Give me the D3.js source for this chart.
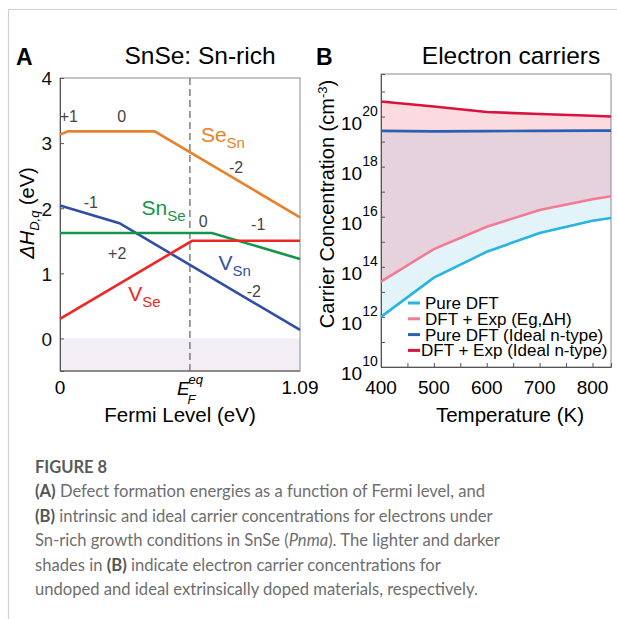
<!DOCTYPE html>
<html>
<head>
<meta charset="utf-8">
<script src="https://cdn.jsdelivr.net/npm/d3@7"></script>
<style>
  body { margin: 0; background: #fff; }
  svg text { font-family: "Liberation Sans", Arial, sans-serif; }
  svg text.cap { font-family: "Lato", "Open Sans", sans-serif; }
</style>
</head>
<body>
<div id="chart"></div>
<script>
// ---- panel A data: defect formation energy (eV) vs Fermi level (eV)
const fermiMax = 1.09;
const fermiEq = 0.59;
const seSn = [[0, 3.13], [0.036, 3.18], [0.43, 3.18], [1.09, 1.86]];
const vSn = [[0, 2.04], [0.27, 1.77], [1.09, 0.13]];
const snSe = [[0, 1.62], [0.69, 1.62], [1.09, 1.22]];
const vSe = [[0, 0.30], [0.60, 1.50], [1.09, 1.50]];
const energyTicks = [0, 1, 2, 3, 4];

// ---- panel B data: carrier concentration (log10 cm^-3) vs temperature (K)
const temps = [400, 500, 600, 700, 800, 835];
const pureDft = [12.0, 13.57, 14.6, 15.35, 15.84, 15.95];
const dftExp = [13.41, 14.71, 15.6, 16.27, 16.7, 16.82];
const pureIdeal = [19.43, 19.41, 19.42, 19.43, 19.44, 19.44];
const expIdeal = [20.6, 20.4, 20.18, 20.1, 20.03, 20.0];
const tempTicks = [400, 500, 600, 700, 800];
const legendLabels = ["Pure DFT", "DFT + Exp (Eg,\u0394H)", "Pure DFT (Ideal n-type)", "DFT + Exp (Ideal n-type)"];

const caption = [
  [["b", "(A)"], ["n", " Defect formation energies as a function of Fermi level, and"]],
  [["b", "(B)"], ["n", " intrinsic and ideal carrier concentrations for electrons under"]],
  [["n", "Sn-rich growth conditions in SnSe ("], ["i", "Pnma"], ["n", "). The lighter and darker"]],
  [["n", "shades in "], ["b", "(B)"], ["n", " indicate electron carrier concentrations for"]],
  [["n", "undoped and ideal extrinsically doped materials, respectively."]]
];

const width = 617, height = 619;
const svg = d3.select("#chart").append("svg")
  .attr("width", width).attr("height", height);

// card border
svg.append("line").attr("x1", 8.5).attr("x2", width).attr("y1", 9.5).attr("y2", 9.5)
  .attr("stroke", "#d0d0d0").attr("stroke-width", 1.2);
svg.append("line").attr("x1", 8.5).attr("x2", 8.5).attr("y1", 9.5).attr("y2", height)
  .attr("stroke", "#d0d0d0").attr("stroke-width", 1.2);

// =================== panel A ===================
const xA = d3.scaleLinear().domain([0, fermiMax]).range([60, 300]);
const yA = d3.scaleLinear().domain([-0.5, 4]).range([371, 78]);

svg.append("rect")
  .attr("x", xA(0)).attr("y", yA(0))
  .attr("width", xA(fermiMax) - xA(0)).attr("height", yA(-0.5) - yA(0))
  .attr("fill", "#f3eef5");

// box
svg.append("rect")
  .attr("x", xA(0)).attr("y", yA(4))
  .attr("width", xA(fermiMax) - xA(0)).attr("height", yA(-0.5) - yA(4))
  .attr("fill", "none").attr("stroke", "#8a8a8a").attr("stroke-width", 1);

svg.append("g")
  .attr("transform", "translate(" + xA(0) + ",0)")
  .call(d3.axisLeft(yA).tickValues(energyTicks).tickFormat(d3.format("d"))
    .tickSize(-4).tickPadding(8))
  .call((g) => g.select(".domain").attr("stroke", "#555"))
  .call((g) => g.selectAll("line").attr("stroke", "#555"))
  .call((g) => g.selectAll("text").attr("font-size", 19).attr("fill", "#111")
    .attr("dy", "0.36em")
    .attr("font-family", "Liberation Sans, Arial, sans-serif"));

svg.append("line")
  .attr("x1", xA(0)).attr("x2", xA(fermiMax))
  .attr("y1", yA(-0.5)).attr("y2", yA(-0.5))
  .attr("stroke", "#555");

// dashed Fermi level
svg.append("line")
  .attr("x1", xA(fermiEq)).attr("x2", xA(fermiEq))
  .attr("y1", yA(4)).attr("y2", yA(-0.5))
  .attr("stroke", "#777").attr("stroke-width", 1.4)
  .attr("stroke-dasharray", "7,4");

const lineA = d3.line().x((d) => xA(d[0])).y((d) => yA(d[1]));
[[seSn, "#e8822a"], [vSn, "#2f4fa6"], [snSe, "#14964a"], [vSe, "#ee2624"]]
  .forEach(([d, c]) => {
    svg.append("path").datum(d).attr("d", lineA)
      .attr("fill", "none").attr("stroke", c).attr("stroke-width", 2.6);
  });

// charge labels
const chargeLabels = [
  ["+1", 0.04, 3.32], ["0", 0.28, 3.32], ["-2", 0.80, 2.54],
  ["-1", 0.14, 2.01], ["0", 0.65, 1.71], ["-1", 0.90, 1.66],
  ["+2", 0.26, 1.22], ["-2", 0.88, 0.64]
];
svg.selectAll(".charge").data(chargeLabels).enter().append("text")
  .attr("class", "charge")
  .attr("x", (d) => xA(d[1])).attr("y", (d) => yA(d[2]))
  .attr("text-anchor", "middle").attr("font-size", 16).attr("fill", "#444")
  .text((d) => d[0]);

// species labels
const speciesLabel = (main, sub, fx, ey, color) => {
  const t = svg.append("text").attr("x", xA(fx)).attr("y", yA(ey))
    .attr("font-size", 21).attr("fill", color);
  t.append("tspan").text(main);
  t.append("tspan").attr("font-size", 15).attr("dy", 6).text(sub);
};
speciesLabel("Se", "Sn", 0.64, 3.02, "#e8822a");
speciesLabel("Sn", "Se", 0.37, 1.89, "#14964a");
speciesLabel("V", "Sn", 0.72, 1.05, "#2f4fa6");
speciesLabel("V", "Se", 0.31, 0.58, "#ee2624");

// x tick labels
svg.append("text").attr("x", xA(0)).attr("y", 394).attr("text-anchor", "middle")
  .attr("font-size", 19).text("0");
svg.append("text").attr("x", xA(fermiMax)).attr("y", 394).attr("text-anchor", "middle")
  .attr("font-size", 19).text("1.09");
const ef = svg.append("text").attr("x", xA(fermiEq) - 13).attr("y", 395)
  .attr("font-size", 19).attr("font-style", "italic");
ef.append("tspan").text("E");
ef.append("tspan").attr("font-size", 13).attr("dx", -2).attr("dy", 9).text("F");
ef.append("tspan").attr("font-size", 13).attr("dx", -7).attr("dy", -20).text("eq");

// axis titles
svg.append("text").attr("x", 180).attr("y", 422).attr("text-anchor", "middle")
  .attr("font-size", 20.5).text("Fermi Level (eV)");
const yTitleA = svg.append("text")
  .attr("transform", "translate(34," + 213 + ") rotate(-90)")
  .attr("text-anchor", "middle").attr("font-size", 20);
yTitleA.append("tspan").attr("font-style", "italic").text("\u0394H");
yTitleA.append("tspan").attr("font-style", "italic").attr("font-size", 13).attr("dy", 5).text("D,q");
yTitleA.append("tspan").attr("dy", -5).text(" (eV)");

svg.append("text").attr("x", 16).attr("y", 65).attr("font-size", 23)
  .attr("font-weight", "bold").text("A");
svg.append("text").attr("x", 200).attr("y", 64).attr("text-anchor", "middle")
  .attr("font-size", 24.5).text("SnSe: Sn-rich");

// =================== panel B ===================
const xB = d3.scaleLinear().domain([400, 835]).range([381, 611]);
const yB = d3.scaleLog().domain([1e10, 5e21]).range([367, 74]);

const rows = temps.map((t, i) => ({
  t: t,
  pure: Math.pow(10, pureDft[i]),
  exp: Math.pow(10, dftExp[i]),
  pureI: Math.pow(10, pureIdeal[i]),
  expI: Math.pow(10, expIdeal[i])
}));

// undoped (dark blue to light blue) and doped (red to pink) shades
svg.append("path").datum(rows)
  .attr("d", d3.area().x((d) => xB(d.t)).y0((d) => yB(d.pure)).y1((d) => yB(d.pureI)))
  .attr("fill", "#bfe6f5").attr("fill-opacity", 0.45);
svg.append("path").datum(rows)
  .attr("d", d3.area().x((d) => xB(d.t)).y0((d) => yB(d.exp)).y1((d) => yB(d.expI)))
  .attr("fill", "#f2788e").attr("fill-opacity", 0.27);

svg.append("rect")
  .attr("x", xB(400)).attr("y", yB(5e21))
  .attr("width", xB(835) - xB(400)).attr("height", yB(1e10) - yB(5e21))
  .attr("fill", "none").attr("stroke", "#8a8a8a").attr("stroke-width", 1);

const decades = d3.range(10, 22).map((e) => Math.pow(10, e));
svg.append("g")
  .attr("transform", "translate(" + xB(400) + ",0)")
  .call(d3.axisLeft(yB).tickValues(decades).tickSize(-4).tickFormat(""))
  .call((g) => g.select(".domain").attr("stroke", "#555"))
  .call((g) => g.selectAll("line").attr("stroke", "#555"));

svg.append("g")
  .attr("transform", "translate(0," + yB(1e10) + ")")
  .call(d3.axisBottom(xB).tickValues(d3.range(400, 835, 50)).tickSize(-4).tickFormat(""))
  .call((g) => g.select(".domain").attr("stroke", "#555"))
  .call((g) => g.selectAll("line").attr("stroke", "#555"));

// y tick labels 10^n
const expLabels = d3.range(10, 21, 2);
const yl = svg.selectAll(".ylab").data(expLabels).enter().append("text")
  .attr("class", "ylab")
  .attr("x", 341).attr("y", (d) => yB(Math.pow(10, d)) + 13)
  .attr("font-size", 19);
yl.append("tspan").text("10");
yl.append("tspan").attr("font-size", 14).attr("dy", -14).text((d) => d);

svg.selectAll(".xlab").data(tempTicks).enter().append("text")
  .attr("x", (d) => xB(d)).attr("y", 394).attr("text-anchor", "middle")
  .attr("font-size", 19).text((d) => d);

const lineB = (key) => d3.line().x((d) => xB(d.t)).y((d) => yB(d[key]));
const seriesB = [["pure", "#27b3e4"], ["exp", "#f47a92"], ["pureI", "#2c5fb2"], ["expI", "#d8143e"]];
seriesB.forEach(([k, c]) => {
  svg.append("path").datum(rows).attr("d", lineB(k))
    .attr("fill", "none").attr("stroke", c).attr("stroke-width", 2.6);
});

// legend
const leg = svg.selectAll(".leg").data(legendLabels).enter().append("g")
  .attr("transform", (d, i) => "translate(408," + (303 + i * 15.8) + ")");
leg.append("line").attr("x1", 0).attr("x2", 12).attr("y1", 0).attr("y2", 0)
  .attr("stroke", (d, i) => seriesB[i][1]).attr("stroke-width", 3);
leg.append("text").attr("x", (d, i) => (i === 3 ? 13 : 17)).attr("y", 6)
  .attr("font-size", 17).text((d) => d);

svg.append("text").attr("x", 510).attr("y", 422).attr("text-anchor", "middle")
  .attr("font-size", 20.5).text("Temperature (K)");
const yTitleB = svg.append("text")
  .attr("transform", "translate(334,204) rotate(-90)")
  .attr("text-anchor", "middle").attr("font-size", 20);
yTitleB.append("tspan").text("Carrier Concentration (cm");
yTitleB.append("tspan").attr("font-size", 13).attr("dy", -7).text("-3");
yTitleB.append("tspan").attr("dy", 7).text(")");

svg.append("text").attr("x", 316).attr("y", 65).attr("font-size", 23)
  .attr("font-weight", "bold").text("B");
svg.append("text").attr("x", 511).attr("y", 64).attr("text-anchor", "middle")
  .attr("font-size", 24.5).text("Electron carriers");

// =================== caption ===================
svg.append("text").attr("class", "cap").attr("x", 35).attr("y", 473)
  .attr("font-size", 16.5).attr("font-weight", 700).attr("fill", "#5a5a5a")
  .text("FIGURE 8");
caption.forEach((parts, i) => {
  const t = svg.append("text").attr("class", "cap")
    .attr("x", 35).attr("y", 497 + i * 24.6)
    .attr("font-size", 16.6).attr("fill", "#6e6e6e");
  parts.forEach(([k, s]) => {
    const sp = t.append("tspan").text(s);
    if (k === "b") sp.attr("font-weight", 700).attr("fill", "#555");
    if (k === "i") sp.attr("font-style", "italic");
  });
});
</script>
</body>
</html>
